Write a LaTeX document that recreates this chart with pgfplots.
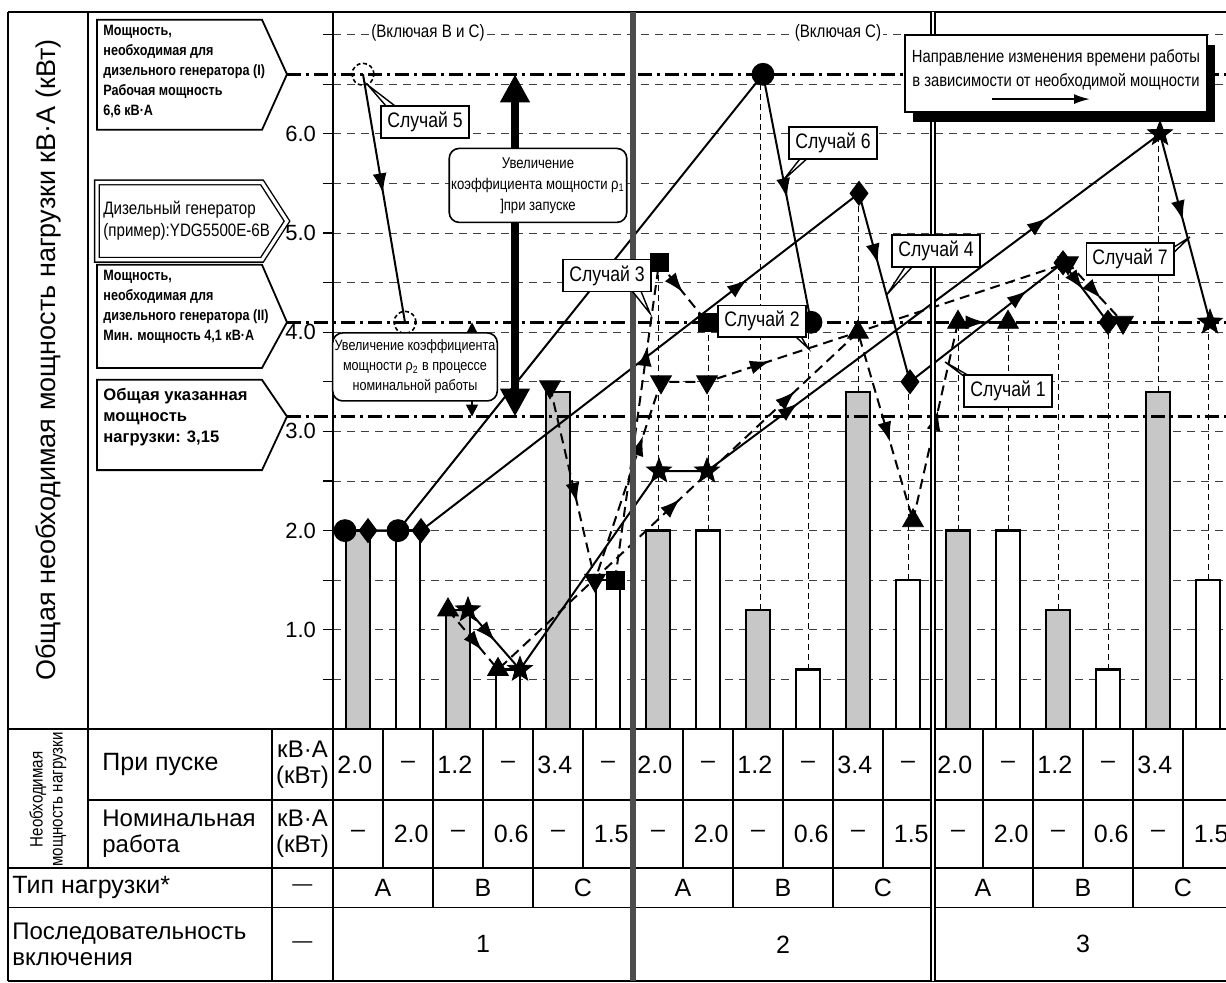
\documentclass[border=0pt]{standalone}
\usepackage{fontspec}
\setmainfont{Liberation Sans}
\newfontfamily\narrow[FakeStretch=0.84]{Liberation Sans}
\usepackage{pgfplots}
\usepackage{pgfplotstable}
\pgfplotsset{compat=1.18}
\usetikzlibrary{arrows.meta,calc}

% filled five-point star
\pgfdeclareplotmark{fstar}{%
  \pgfpathmoveto{\pgfpointpolar{90}{\pgfplotmarksize}}%
  \pgfpathlineto{\pgfpointpolar{126}{0.42\pgfplotmarksize}}%
  \pgfpathlineto{\pgfpointpolar{162}{\pgfplotmarksize}}%
  \pgfpathlineto{\pgfpointpolar{198}{0.42\pgfplotmarksize}}%
  \pgfpathlineto{\pgfpointpolar{234}{\pgfplotmarksize}}%
  \pgfpathlineto{\pgfpointpolar{270}{0.42\pgfplotmarksize}}%
  \pgfpathlineto{\pgfpointpolar{306}{\pgfplotmarksize}}%
  \pgfpathlineto{\pgfpointpolar{342}{0.42\pgfplotmarksize}}%
  \pgfpathlineto{\pgfpointpolar{18}{\pgfplotmarksize}}%
  \pgfpathlineto{\pgfpointpolar{54}{0.42\pgfplotmarksize}}%
  \pgfpathclose
  \pgfusepathqfillstroke}

\tikzset{
  caseline/.style={line width=1pt, black},
  dashline/.style={caseline, dash pattern=on 5pt off 3pt},
  refline/.style={line width=1.6pt, dash pattern=on 7pt off 2.5pt on 1.5pt off 2.5pt},
  drop/.style={line width=0.5pt, dash pattern=on 3pt off 2pt},
  tbl/.style={line width=0.8pt},
  callout/.style={draw, fill=white, line width=0.8pt, inner sep=3pt, font=\narrow\fontsize{10.5}{12}\selectfont},
}

\pgfplotstableread{
x y
0.5 2.0
2.5 1.2
4.5 3.4
6.5 2.0
8.5 1.2
10.5 3.4
12.5 2.0
14.5 1.2
16.5 3.4
}\startbars
\pgfplotstableread{
x y
1.5 2.0
3.5 0.6
5.5 1.5
7.5 2.0
9.5 0.6
11.5 1.5
13.5 2.0
15.5 0.6
17.5 1.5
}\ratedbars

\pgfplotstableread{
x y
2.3 1.2
3.3 0.6
10.5 4.0
11.6 2.1
12.5 4.1
13.5 4.1
}\caseone
\pgfplotstableread{
x y
5.64 1.5
6.52 4.7
7.48 4.1
}\casesquare
\pgfplotstableread{
x y
4.34 3.45
5.24 1.5
6.56 3.5
7.48 3.5
14.7 4.7
15.8 4.1
}\casetri
\pgfplotstableread{
x y
0.7 2.0
1.76 2.0
10.52 5.4
11.54 3.5
14.6 4.7
15.5 4.1
}\casefour
\pgfplotstableread{
x y
0.6 6.6
1.44 4.1
}\casefive
\pgfplotstableread{
x y
0.24 2.0
1.3 2.0
8.6 6.6
9.56 4.1
}\casesix
\pgfplotstableread{
x y
2.7 1.2
3.74 0.6
6.52 2.6
7.48 2.6
16.54 6.0
17.54 4.1
}\caseseven

% direction arrows along the case paths: base point and short vector
\pgfplotstableread{
x y u v
0.96 5.519 0.040 -0.119
9.034 5.469 0.0456 -0.119
8.09 4.456 0.190 0.0738
10.837 4.807 0.0627 -0.117
13.69 4.345 0.1895 0.0743
14.855 4.527 0.145 -0.0965
3.082 0.979 0.158 -0.091
9.1075 3.211 0.1925 0.0723
14.0875 5.080 0.1925 0.0723
16.9385 5.243 0.0615 -0.117
2.826 0.8845 0.154 -0.0925
6.765 2.236 0.175 0.0827
9.065 3.322 0.175 0.0827
11.073 3.011 0.0673 -0.116
12.047 3.093 0.0531 0.118
12.81 4.1 0.24 0
4.826 2.398 0.0544 -0.118
6.124 2.840 0.0758 0.1148
8.512 3.671 0.228 0.0379
15.197 4.429 0.163 -0.089
6.257 3.74 0.033 0.12
6.849 4.494 0.151 -0.094
}\patharrows

\begin{document}
\begin{tikzpicture}
\begin{axis}[
  x=25pt, y=49.6pt,
  xmin=0, xmax=17.86, ymin=0, ymax=7.228,
  clip=false,
  axis x line=none,
  axis y line*=left,
  axis line style={line width=1pt, black},
  ytick={1,2,3,4,5,6},
  minor ytick={0.5,1.5,2.5,3.5,4.5,5.5,6.5,7},
  ymajorgrids, yminorgrids,
  major grid style={black!75, line width=0.5pt, dash pattern=on 4pt off 3pt},
  minor grid style={black!75, line width=0.5pt, dash pattern=on 4pt off 3pt},
  tick align=outside,
  major tick length=5pt, minor tick length=5pt,
  every tick/.append style={black, line width=0.6pt},
  yticklabel style={font=\fontsize{11}{12}\selectfont,
    /pgf/number format/fixed, /pgf/number format/fixed zerofill,
    /pgf/number format/precision=1},
  /pgf/number format/assume math mode=true,
]
% bars
\addplot[ybar, bar width=0.48, bar shift=0pt, fill=black!22, draw=black, line width=1.2pt] table {\startbars};
\addplot[ybar, bar width=0.48, bar shift=0pt, fill=white, draw=black, line width=1.2pt] table {\ratedbars};

% drop lines
\draw[drop] (axis cs:6.5,2.0) -- (axis cs:6.5,4.7);
\draw[drop] (axis cs:7.5,2.0) -- (axis cs:7.5,4.1);
\draw[drop] (axis cs:8.55,1.2) -- (axis cs:8.55,6.6);
\draw[drop] (axis cs:9.5,0.6) -- (axis cs:9.5,4.1);
\draw[drop] (axis cs:10.5,3.4) -- (axis cs:10.5,5.4);
\draw[drop] (axis cs:11.5,1.5) -- (axis cs:11.5,3.5);
\draw[drop] (axis cs:12.5,2.0) -- (axis cs:12.5,4.1);
\draw[drop] (axis cs:13.5,2.0) -- (axis cs:13.5,4.1);
\draw[drop] (axis cs:14.5,1.2) -- (axis cs:14.5,4.7);
\draw[drop] (axis cs:15.5,0.6) -- (axis cs:15.5,4.1);
\draw[drop] (axis cs:16.5,3.4) -- (axis cs:16.5,6.0);
\draw[drop] (axis cs:17.5,1.5) -- (axis cs:17.5,4.1);

% reference levels
\draw[refline] (axis cs:-0.92,6.6) -- (axis cs:17.86,6.6);
\draw[refline] (axis cs:-0.92,4.1) -- (axis cs:17.86,4.1);
\draw[refline] (axis cs:-0.92,3.15) -- (axis cs:17.86,3.15);

% case paths
\addplot[dashline] table {\caseone};
\addplot[dashline] table {\casesquare};
\addplot[dashline] table {\casetri};
\addplot[caseline] table {\casefour};
\addplot[caseline] table {\casefive};
\addplot[caseline] table {\casesix};
\addplot[caseline] table {\caseseven};
\addplot[quiver={u=\thisrow{u}, v=\thisrow{v}}, black, line width=0.9pt,
  -{Latex[length=10pt,width=7pt]}] table {\patharrows};

% markers
\addplot[only marks, mark=triangle*, mark size=6pt, mark options={solid, fill=black}] table {\caseone};
\addplot[only marks, mark=square*, mark size=4.5pt, mark options={solid, fill=black}] table {\casesquare};
\addplot[only marks, mark=triangle*, mark size=6pt, mark options={solid, fill=black, rotate=180}] table {\casetri};
\addplot[only marks, mark=diamond*, mark size=6pt, mark options={solid, fill=black}] table {\casefour};
\addplot[only marks, mark=o, mark size=5.5pt, mark options={line width=0.8pt, dash pattern=on 2pt off 1.3pt, fill=white}] table {\casefive};
\addplot[only marks, mark=*, mark size=5.5pt, mark options={solid, fill=black}] table {\casesix};
\addplot[only marks, mark=fstar, mark size=6.5pt, mark options={solid, fill=black}] table {\caseseven};

\coordinate (O) at (axis cs:0,0);
\end{axis}

\begin{scope}[shift={(O)}, x=25pt, y=49.6pt]
% frame and table lines
\draw[tbl] (-6.5,7.228) -- (17.86,7.228);
\draw[tbl] (-6.5,0) -- (17.86,0);
\draw[tbl] (-4.9,-0.716) -- (17.86,-0.716);
\draw[tbl] (-6.5,-1.40) -- (17.86,-1.40);
\draw[tbl] (-6.5,-1.80) -- (17.86,-1.80);
\draw[tbl] (-6.5,-2.54) -- (17.86,-2.54);
\draw[line width=1.2pt] (-6.5,7.228) -- (-6.5,-2.54);
\draw[tbl] (-4.9,7.228) -- (-4.9,-1.40);
\draw[tbl] (-1.22,0) -- (-1.22,-2.54);
\draw[line width=1pt] (0,7.228) -- (0,-2.54);
\foreach \k in {1,2,3,4,5,7,8,9,10,11,13,14,15,16,17} \draw[tbl] (\k,0) -- (\k,-1.40);
\foreach \k in {2,4,8,10,14,16} \draw[tbl] (\k,-1.40) -- (\k,-1.80);
\draw[line width=2.6pt, black!70] (6,7.228) -- (6,-2.54);
\draw[line width=0.6pt, double, double distance=1.4pt] (12,7.228) -- (12,-2.54);

% y label
\node[rotate=90, font=\fontsize{13.5}{15}\selectfont] at (-5.7,3.72) {Общая необходимая мощность нагрузки кВ·А (кВт)};

% level boxes
\draw[line width=0.9pt, fill=white] (-4.72,7.15) -- (-1.42,7.15) -- (-0.92,6.6) -- (-1.42,6.04) -- (-4.72,6.04) -- cycle;
\node[anchor=north west, align=left, inner sep=0pt, font=\narrow\bfseries\fontsize{7.5}{10}\selectfont] at (-4.6,7.1)
  {Мощность,\\необходимая для\\дизельного генератора (I)\\Рабочая мощность\\6,6 кВ·А};
\draw[line width=0.7pt, double, double distance=1.6pt] (-4.72,5.51) -- (-1.42,5.51) -- (-0.92,5.12) -- (-1.42,4.73) -- (-4.72,4.73) -- cycle;
\node[anchor=west, align=left, inner sep=0pt, font=\narrow\fontsize{9}{11}\selectfont] at (-4.6,5.12)
  {Дизельный генератор\\(пример):YDG5500E-6B};
\draw[line width=0.9pt, fill=white] (-4.72,4.68) -- (-1.42,4.68) -- (-0.92,4.1) -- (-1.42,3.64) -- (-4.72,3.64) -- cycle;
\node[anchor=north west, align=left, inner sep=0pt, font=\narrow\bfseries\fontsize{7.5}{10}\selectfont] at (-4.6,4.63)
  {Мощность,\\необходимая для\\дизельного генератора (II)\\Мин. мощность 4,1 кВ·А};
\draw[line width=0.9pt, fill=white] (-4.72,3.52) -- (-1.42,3.52) -- (-0.92,3.15) -- (-1.42,2.61) -- (-4.72,2.61) -- cycle;
\node[anchor=north west, align=left, inner sep=0pt, font=\bfseries\fontsize{8.3}{10.5}\selectfont] at (-4.6,3.44)
  {Общая указанная\\мощность\\нагрузки: 3,15};

% table text
\node[rotate=90, align=center, font=\narrow\fontsize{9}{10}\selectfont] at (-5.7,-0.71) {Необходимая\\мощность нагрузки};
\node[anchor=west, inner sep=0pt, font=\fontsize{12.5}{14}\selectfont] at (-4.62,-0.36) {При пуске};
\node[anchor=west, inner sep=0pt, align=left, font=\fontsize{12}{13}\selectfont] at (-4.62,-1.06) {Номинальная\\работа};
\node[align=center, font=\fontsize{12}{13}\selectfont] at (-0.61,-0.36) {кВ·А\\(кВт)};
\node[align=center, font=\fontsize{12}{13}\selectfont] at (-0.61,-1.06) {кВ·А\\(кВт)};
\node[anchor=west, inner sep=0pt, font=\fontsize{12.5}{14}\selectfont] at (-6.42,-1.6) {Тип нагрузки*};
\node[anchor=west, inner sep=0pt, align=left, font=\fontsize{12}{13}\selectfont] at (-6.42,-2.17) {Последовательность\\включения};
\node[font=\fontsize{10}{11}\selectfont] at (-0.61,-1.6) {—};
\node[font=\fontsize{10}{11}\selectfont] at (-0.61,-2.17) {—};
\begin{scope}[font=\fontsize{12.5}{14}\selectfont]
\foreach \s/\n in {0/1,6/2,12/3} {
  \node[anchor=west, inner sep=1pt] at (\s+0.04,-0.36) {2.0};
  \node at (\s+1.5,-0.36) {–};
  \node[anchor=west, inner sep=1pt] at (\s+2.04,-0.36) {1.2};
  \node at (\s+3.5,-0.36) {–};
  \node[anchor=west, inner sep=1pt] at (\s+4.04,-0.36) {3.4};
  \node at (\s+0.5,-1.06) {–};
  \node[anchor=east, inner sep=1pt] at (\s+1.96,-1.06) {2.0};
  \node at (\s+2.5,-1.06) {–};
  \node[anchor=east, inner sep=1pt] at (\s+3.96,-1.06) {0.6};
  \node at (\s+4.5,-1.06) {–};
  \node[anchor=east, inner sep=1pt] at (\s+5.96,-1.06) {1.5};
  \node at (\s+1,-1.6) {A};
  \node at (\s+3,-1.6) {B};
  \node at (\s+5,-1.6) {C};
  \node at (\s+3,-2.17) {\n};
}
\node at (5.5,-0.36) {–};
\node at (11.5,-0.36) {–};
\end{scope}

% power factor arrows and notes
\draw[line width=4pt, {Triangle[length=14pt,width=14pt]}-{Triangle[length=14pt,width=14pt]}] (3.64,3.15) -- (3.64,6.6);
\draw[line width=0.8pt, {Triangle[length=6pt,width=6pt]}-{Triangle[length=6pt,width=6pt]}] (2.78,3.15) -- (2.78,4.1);
\node[draw, fill=white, rounded corners=5pt, line width=0.8pt, align=center, minimum width=86pt, minimum height=37pt,
  inner sep=1pt, font=\narrow\fontsize{7.8}{10.5}\selectfont] at (4.1,5.48)
  {Увеличение\\коэффициента мощности ρ\textsubscript{1}\\]при запуске};
\node[draw, fill=white, rounded corners=5pt, line width=0.8pt, align=center, minimum width=77pt, minimum height=34pt,
  inner sep=1pt, font=\narrow\fontsize{7.5}{10}\selectfont] at (1.64,3.65)
  {Увеличение коэффициента\\мощности ρ\textsubscript{2} в процессе\\номинальной работы};

\node[fill=white, inner sep=1pt, font=\narrow\fontsize{9}{10}\selectfont] at (1.9,7.02) {(Включая В и С)};
\node[fill=white, inner sep=1pt, font=\narrow\fontsize{9}{10}\selectfont] at (10.1,7.02) {(Включая С)};

% direction box
\fill (11.6,6.12) rectangle (17.64,6.9);
\draw[fill=white, line width=0.8pt] (11.44,6.22) rectangle (17.48,6.996);
\node[font=\narrow\fontsize{8.8}{10}\selectfont] at (14.46,6.77) {Направление изменения времени работы};
\node[font=\narrow\fontsize{8.8}{10}\selectfont] at (14.46,6.53) {в зависимости от необходимой мощности};
\draw[line width=1pt, -{Latex[length=8pt,width=5pt]}] (13.18,6.35) -- (15.14,6.35);

% callouts
\draw[fill=white, line width=0.7pt] (0.7,6.49) -- (1.2,6.2) -- (1.45,6.2) -- cycle;
\node[callout] at (1.84,6.12) {Случай 5};
\draw[fill=white, line width=0.7pt] (6.34,4.19) -- (5.85,4.5) -- (6.05,4.55) -- cycle;
\node[callout] at (5.48,4.57) {Случай 3};
\draw[fill=white, line width=0.7pt] (9.0,5.53) -- (9.5,5.85) -- (9.7,5.85) -- cycle;
\node[callout] at (10.0,5.91) {Случай 6};
\draw[fill=white, line width=0.7pt] (11.08,4.38) -- (11.6,4.78) -- (11.8,4.78) -- cycle;
\node[callout] at (12.06,4.82) {Случай 4};
\draw[fill=white, line width=0.7pt] (9.5,3.84) -- (9.05,4.05) -- (9.25,4.05) -- cycle;
\node[callout] at (8.58,4.11) {Случай 2};
\draw[fill=white, line width=0.7pt] (12.24,3.7) -- (12.9,3.45) -- (13.1,3.45) -- cycle;
\node[callout] at (13.5,3.41) {Случай 1};
\draw[fill=white, line width=0.7pt] (17.14,4.96) -- (16.45,4.74) -- (16.6,4.7) -- cycle;
\node[callout] at (15.94,4.74) {Случай 7};

\pgfresetboundingbox
\useasboundingbox (-6.66,-2.56) rectangle (17.86,7.349);
\end{scope}
\end{tikzpicture}
\end{document}
